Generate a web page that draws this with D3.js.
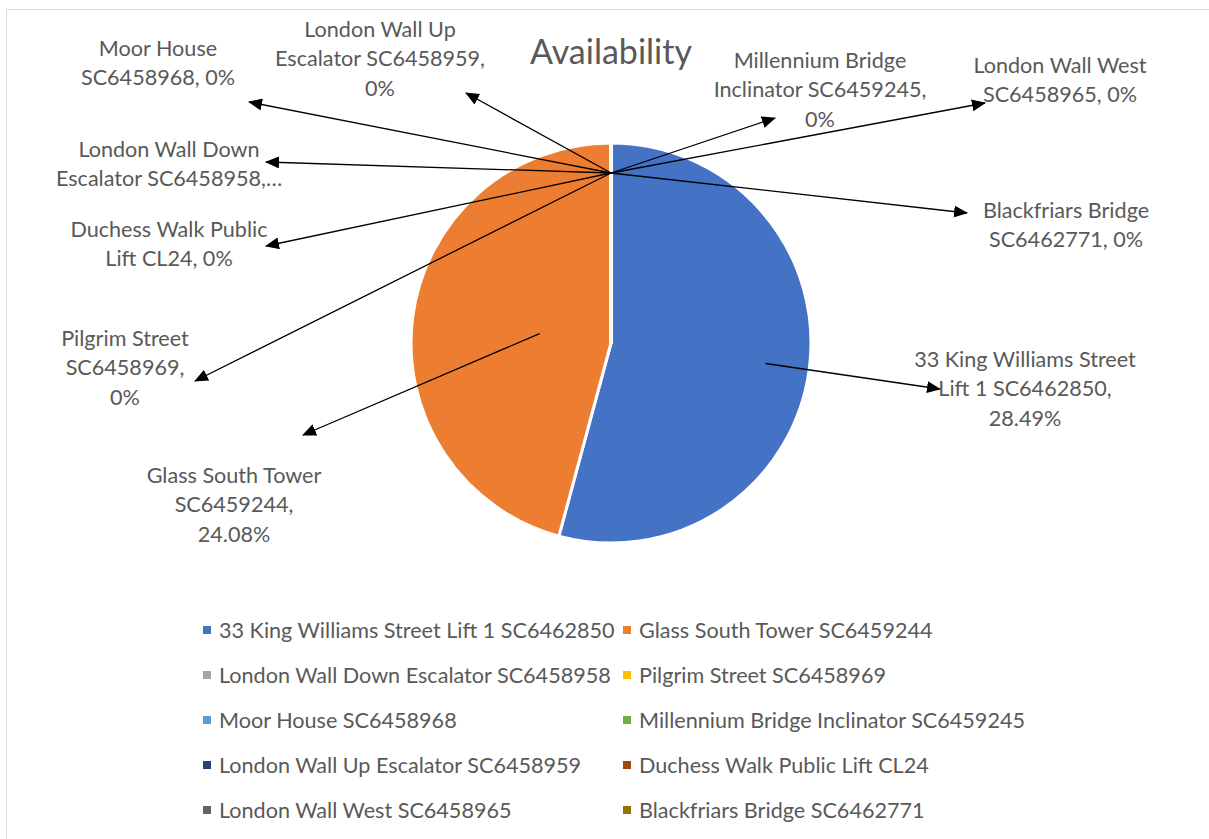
<!DOCTYPE html>
<html>
<head>
<meta charset="utf-8">
<script src="https://cdn.jsdelivr.net/npm/d3@7"></script>
<style>
	body { margin: 0; background: #fff; }
	svg text { font-family: Lato, 'Open Sans', sans-serif; fill: #595959; }
</style>
</head>
<body>
<svg id="chart" width="1209" height="839"></svg>
<script>
'use strict';

// data
let categories = [
	'33 King Williams Street Lift 1 SC6462850',
	'Glass South Tower SC6459244',
	'London Wall Down Escalator SC6458958',
	'Pilgrim Street SC6458969',
	'Moor House SC6458968',
	'Millennium Bridge Inclinator SC6459245',
	'London Wall Up Escalator SC6458959',
	'Duchess Walk Public Lift CL24',
	'London Wall West SC6458965',
	'Blackfriars Bridge SC6462771'
];
let values = [28.49, 24.08, 0, 0, 0, 0, 0, 0, 0, 0];
let colors = ['#4472c4', '#ed7d31', '#a5a5a5', '#ffc000', '#5b9bd5',
	'#70ad47', '#264478', '#9e480e', '#636363', '#997300'];
// data label text as wrapped in the picture
let labelLines = [
	['33 King Williams Street', 'Lift 1 SC6462850,', '28.49%'],
	['Glass South Tower', 'SC6459244,', '24.08%'],
	['London Wall Down', 'Escalator SC6458958,…'],
	['Pilgrim Street', 'SC6458969,', '0%'],
	['Moor House', 'SC6458968, 0%'],
	['Millennium Bridge', 'Inclinator SC6459245,', '0%'],
	['London Wall Up', 'Escalator SC6458959,', '0%'],
	['Duchess Walk Public', 'Lift CL24, 0%'],
	['London Wall West', 'SC6458965, 0%'],
	['Blackfriars Bridge', 'SC6462771, 0%']
];
let title = 'Availability';

// layout: label centre / first line y, arrow tip, leader start ratio
let labelLayout = [
	{x: 1025, y: 359, tip: [940, 389], lr: 0.78},
	{x: 234, y: 475, tip: [303, 435], lr: 0.36},
	{x: 169, y: 149, tip: [266, 162], lr: 0.85},
	{x: 125, y: 338, tip: [195, 381], lr: 0.85},
	{x: 158, y: 48, tip: [249, 102], lr: 0.85},
	{x: 820, y: 60, tip: [775, 118], lr: 0.85},
	{x: 380, y: 29, tip: [466, 93], lr: 0.85},
	{x: 169, y: 229, tip: [266, 246], lr: 0.85},
	{x: 1060, y: 65, tip: [985, 103], lr: 0.85},
	{x: 1066, y: 210, tip: [967, 213], lr: 0.85}
];

let opt = {
	cx: 611,
	cy: 343,
	radius: 200,
	lineHeight: 29.5,
	fontSize: 21.6
};

let svg = d3.select('#chart');

// chart frame
svg.append('rect')
	.attr('x', 6.5)
	.attr('y', 9.5)
	.attr('width', 1300)
	.attr('height', 900)
	.attr('fill', 'none')
	.attr('stroke', '#d9d9d9');

svg.append('defs').append('marker')
	.attr('id', 'arrow')
	.attr('markerUnits', 'userSpaceOnUse')
	.attr('viewBox', '0 0 14 12')
	.attr('refX', 13)
	.attr('refY', 6)
	.attr('markerWidth', 14)
	.attr('markerHeight', 12)
	.attr('orient', 'auto')
	.append('path')
	.attr('d', 'M0,0L14,6L0,12Z')
	.attr('fill', '#000');

svg.append('text')
	.attr('x', opt.cx)
	.attr('y', 64)
	.attr('text-anchor', 'middle')
	.style('font-size', '34px')
	.text(title);

let pie = d3.pie().sort(null).value(d => d);
let arcs = pie(values);
let arc = d3.arc().innerRadius(0).outerRadius(opt.radius);

let g = svg.append('g')
	.attr('transform', `translate(${opt.cx},${opt.cy})`);

g.selectAll('path.slice')
	.data(arcs)
	.join('path')
	.attr('class', 'slice')
	.attr('d', arc)
	.attr('fill', (d, i) => colors[i])
	.attr('stroke', '#fff')
	.attr('stroke-width', 3)
	.attr('stroke-linejoin', 'round');

// leader lines with arrows
g.selectAll('line.leader')
	.data(arcs)
	.join('line')
	.attr('class', 'leader')
	.attr('x1', (d, i) => {
		let a = (d.startAngle + d.endAngle) / 2;
		return Math.sin(a) * opt.radius * labelLayout[i].lr;
	})
	.attr('y1', (d, i) => {
		let a = (d.startAngle + d.endAngle) / 2;
		return -Math.cos(a) * opt.radius * labelLayout[i].lr;
	})
	.attr('x2', (d, i) => labelLayout[i].tip[0] - opt.cx)
	.attr('y2', (d, i) => labelLayout[i].tip[1] - opt.cy)
	.attr('stroke', '#000')
	.attr('stroke-width', 1.3)
	.attr('marker-end', 'url(#arrow)');

// data labels
let labels = svg.selectAll('text.label')
	.data(labelLines)
	.join('text')
	.attr('class', 'label')
	.attr('text-anchor', 'middle')
	.style('font-size', opt.fontSize + 'px');

labels.selectAll('tspan')
	.data((d, i) => d.map(t => ({t, i})))
	.join('tspan')
	.attr('x', d => labelLayout[d.i].x)
	.attr('y', (d, j) => labelLayout[d.i].y + j * opt.lineHeight)
	.attr('dy', '0.35em')
	.text(d => d.t);

// legend, two columns
let legend = svg.append('g');
let legendItems = legend.selectAll('g')
	.data(categories)
	.join('g')
	.attr('transform', (d, i) => `translate(${i % 2 ? 623 : 203},${630 + Math.floor(i / 2) * 45})`);

legendItems.append('rect')
	.attr('x', 0)
	.attr('y', -4)
	.attr('width', 8)
	.attr('height', 8)
	.attr('fill', (d, i) => colors[i]);

legendItems.append('text')
	.attr('x', 16)
	.attr('y', 0)
	.attr('dy', '0.35em')
	.style('font-size', opt.fontSize + 'px')
	.text(d => d);
</script>
</body>
</html>
